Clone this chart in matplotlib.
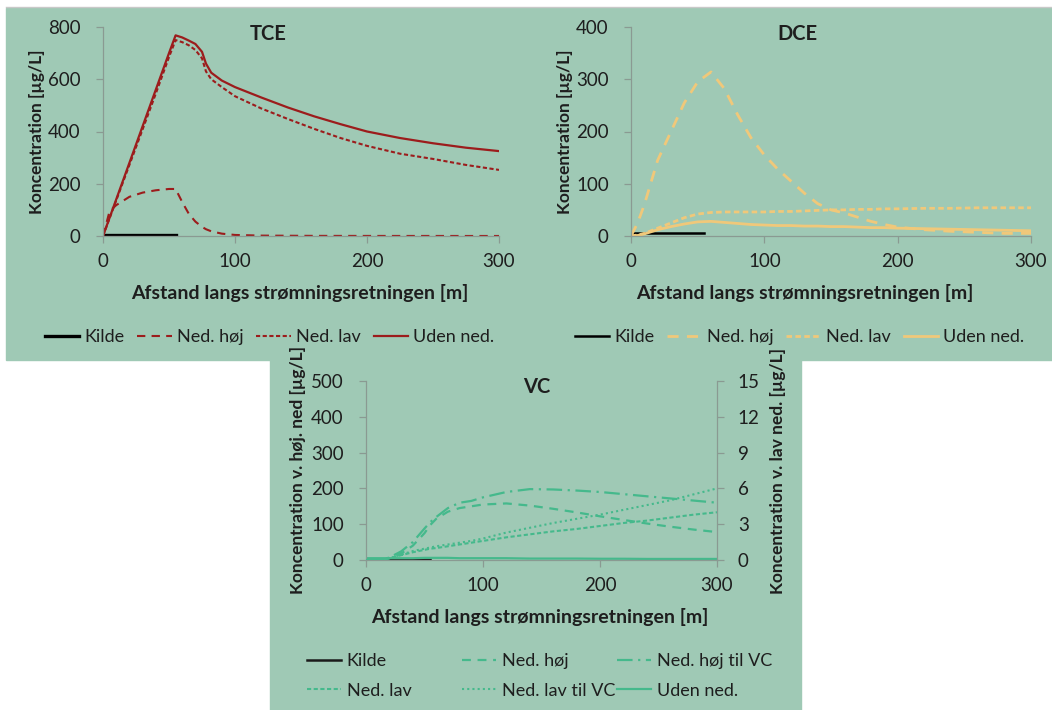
import matplotlib.pyplot as plt
from matplotlib.patches import Rectangle
from matplotlib.lines import Line2D

plt.rcParams['font.family'] = ['Lato', 'DejaVu Sans']

W, H = 1052, 710
BG = '#9fc9b5'
SPINE = '#8a9a92'
TXT = '#1e1e1e'

# ---- data ----
kilde_x = [0, 55]
tce_kilde = [3, 3]
dce_kilde = [5, 5]
vc_kilde = [3, 3]

tce_x = [0, 5, 10, 20, 30, 40, 50, 55, 60, 65, 70, 75, 78, 82, 90, 100,
         120, 140, 160, 180, 200, 225, 250, 275, 300]
tce_uden = [0, 70, 140, 280, 420, 560, 700, 768, 760, 748, 735, 705, 660,
            625, 595, 570, 530, 492, 458, 428, 400, 375, 355, 338, 325]
tce_lav = [0, 68, 136, 272, 408, 545, 685, 750, 742, 730, 712, 680, 630,
           600, 570, 535, 488, 448, 410, 375, 345, 315, 295, 272, 253]
tce_hoej = [0, 95, 118, 150, 166, 175, 180, 180, 130, 85, 55, 35, 26, 18,
            9, 4, 1.5, 1, 0.5, 0.4, 0.3, 0.2, 0.2, 0.1, 0.1]

dce_x = [0, 5, 10, 20, 30, 40, 50, 60, 70, 80, 90, 100, 110, 120, 130, 140,
         150, 160, 170, 180, 190, 200, 220, 240, 260, 280, 300]
dce_hoej = [0, 25, 60, 145, 200, 255, 295, 314, 282, 232, 188, 155, 128,
            105, 82, 62, 50, 44, 36, 28, 22, 17, 12, 9, 7, 5, 5]
dce_lav = [0, 2, 5, 15, 25, 35, 42, 45, 46, 46, 46, 46, 47, 47, 48, 49, 50,
           50, 51, 51, 52, 52, 53, 53, 54, 54, 54]
dce_uden = [0, 1, 4, 12, 18, 23, 27, 28, 26, 24, 22, 21, 20, 20, 19, 19, 18,
            18, 17, 16, 16, 15, 14, 13, 12, 11, 10]

vc_x = [0, 10, 15, 20, 30, 40, 50, 55, 60, 70, 80, 90, 100, 120, 140, 160,
        180, 200, 220, 240, 260, 280, 300]
vc_hoej = [0, 0, 1, 5, 18, 40, 75, 98, 115, 135, 145, 150, 155, 158, 152,
           143, 133, 122, 112, 102, 93, 85, 78]
vc_hoej_vc = [0, 0, 2, 7, 24, 50, 88, 106, 120, 145, 160, 165, 175, 190,
              198, 197, 194, 190, 184, 178, 172, 166, 160]
vc_lav = [0, 0, 0.05, 0.15, 0.4, 0.65, 0.85, 0.95, 1.0, 1.15, 1.3, 1.45,
          1.6, 1.9, 2.15, 2.4, 2.6, 2.85, 3.1, 3.3, 3.55, 3.8, 4.0]
vc_lav_vc = [0, 0, 0.05, 0.15, 0.45, 0.75, 0.95, 1.05, 1.15, 1.3, 1.45, 1.6,
             1.8, 2.3, 2.7, 3.1, 3.45, 3.8, 4.2, 4.6, 5.0, 5.5, 6.0]
vc_uden = [5, 5, 5, 5, 5, 5, 6, 6, 6, 6, 5, 5, 5, 5, 4, 4, 4, 3.5, 3.5, 3,
           3, 3, 3]

xticks = [0, 100, 200, 300]

RED = '#9c1c1c'
YEL = '#f0c87a'
GRN = '#45b98c'

LONG = (0, (4, 3))
SHORT = (0, (2, 1.2))
DASHDOT = (0, (7, 2.5, 1, 2.5))
DOT = (0, (1, 1.5))

TICK_FS = 13.5
XLAB_FS = 14
YLAB_FS = 12.5
LEG_FS = 13
TITLE_FS = 14.5


def px_axes(x0, y0, x1, y1):
    return fig.add_axes([x0 / W, 1 - y1 / H, (x1 - x0) / W, (y1 - y0) / H])


def style(ax, ymax, ystep):
    ax.set_facecolor('none')
    ax.set_xlim(0, 300)
    ax.set_ylim(0, ymax)
    ax.set_xticks(xticks)
    ax.set_yticks(range(0, ymax + 1, ystep))
    for s in ['top', 'right']:
        ax.spines[s].set_visible(False)
    for s in ['left', 'bottom']:
        ax.spines[s].set_color(SPINE)
        ax.spines[s].set_linewidth(0.9)
    ax.tick_params(axis='both', colors=SPINE, labelcolor=TXT,
                   labelsize=TICK_FS, length=5, width=0.9)
    ax.tick_params(axis='y', pad=11)
    ax.tick_params(axis='x', pad=7)


def legend_at(handles, x, y, ncol, colsp=0.7):
    fig.legend(handles, [h.get_label() for h in handles], loc='center left',
               bbox_to_anchor=(x / W, 1 - y / H), ncol=ncol, frameon=False,
               fontsize=LEG_FS, handlelength=1.9, handletextpad=0.3,
               columnspacing=colsp, labelspacing=0.75, borderpad=0,
               borderaxespad=0, labelcolor=TXT)


fig = plt.figure(figsize=(W / 100, H / 100), dpi=100, facecolor='white')

# green panels
fig.add_artist(Rectangle((6 / W, 1 - 360 / H), (W - 6) / W, 352 / H,
                         transform=fig.transFigure, color=BG, zorder=0))
fig.add_artist(Rectangle((270 / W, 0), 531 / W, 1 - 360 / H,
                         transform=fig.transFigure, color=BG, zorder=0))
fig.add_artist(Line2D([6 / W, 1], [1 - 7 / H] * 2, transform=fig.transFigure,
                      color='#c8c8c8', lw=1))

xlab_kw = dict(fontsize=XLAB_FS, fontweight='bold', color=TXT)
ylab_kw = dict(fontsize=YLAB_FS, fontweight='bold', color=TXT)

# ---- TCE ----
ax1 = px_axes(103, 27, 499, 236)
style(ax1, 800, 200)
ax1.plot(kilde_x, tce_kilde, color='black', lw=2.4, label='Kilde')
ax1.plot(tce_x, tce_hoej, color=RED, lw=1.5, ls=LONG, label='Ned. høj')
ax1.plot(tce_x, tce_lav, color=RED, lw=1.5, ls=SHORT, label='Ned. lav')
ax1.plot(tce_x, tce_uden, color=RED, lw=1.6, label='Uden ned.')
ax1.set_xlabel('Afstand langs strømningsretningen [m]', **xlab_kw)
ax1.set_ylabel('Koncentration [µg/L]', **ylab_kw)
ax1.xaxis.set_label_coords((300 - 103) / 396, (236 - 293) / 209)
ax1.yaxis.set_label_coords((37 - 103) / 396, 0.5)
ax1.xaxis.label.set_va('center')
ax1.yaxis.label.set_va('center')
fig.text(268 / W, 1 - 34 / H, 'TCE', ha='center', va='center',
         fontsize=TITLE_FS, fontweight='bold', color=TXT)
legend_at(ax1.get_legend_handles_labels()[0], 45, 337, 4)

# ---- DCE ----
ax2 = px_axes(631, 27, 1031, 236)
style(ax2, 400, 100)
ax2.plot(kilde_x, dce_kilde, color='black', lw=1.8, label='Kilde')
ax2.plot(dce_x, dce_hoej, color=YEL, lw=2, ls=LONG, label='Ned. høj')
ax2.plot(dce_x, dce_lav, color=YEL, lw=2, ls=SHORT, label='Ned. lav')
ax2.plot(dce_x, dce_uden, color=YEL, lw=2, label='Uden ned.')
ax2.set_xlabel('Afstand langs strømningsretningen [m]', **xlab_kw)
ax2.set_ylabel('Koncentration [µg/L]', **ylab_kw)
ax2.xaxis.set_label_coords((805 - 631) / 400, (236 - 293) / 209)
ax2.yaxis.set_label_coords((565 - 631) / 400, 0.5)
ax2.xaxis.label.set_va('center')
ax2.yaxis.label.set_va('center')
fig.text(797 / W, 1 - 34 / H, 'DCE', ha='center', va='center',
         fontsize=TITLE_FS, fontweight='bold', color=TXT)
legend_at(ax2.get_legend_handles_labels()[0], 575, 337, 4)

# ---- VC ----
ax3 = px_axes(366, 381, 717, 560)
style(ax3, 500, 100)
ax3r = ax3.twinx()
ax3r.set_ylim(0, 15)
ax3r.set_yticks(range(0, 16, 3))
for s in ['top', 'left', 'bottom']:
    ax3r.spines[s].set_visible(False)
ax3r.spines['right'].set_color(SPINE)
ax3r.spines['right'].set_linewidth(0.9)
ax3r.tick_params(colors=SPINE, labelcolor=TXT, labelsize=TICK_FS, length=5,
                 width=0.9, pad=10)

h_k, = ax3.plot(kilde_x, vc_kilde, color='#1a1a1a', lw=1.8, label='Kilde')
h_h, = ax3.plot(vc_x, vc_hoej, color=GRN, lw=1.6, ls=LONG, label='Ned. høj')
h_hv, = ax3.plot(vc_x, vc_hoej_vc, color=GRN, lw=1.6, ls=DASHDOT,
                 label='Ned. høj til VC')
h_l, = ax3r.plot(vc_x, vc_lav, color=GRN, lw=1.5, ls=SHORT, label='Ned. lav')
h_lv, = ax3r.plot(vc_x, vc_lav_vc, color=GRN, lw=1.5, ls=DOT,
                  label='Ned. lav til VC')
h_u, = ax3.plot(vc_x, vc_uden, color=GRN, lw=1.6, label='Uden ned.')

ax3.set_xlabel('Afstand langs strømningsretningen [m]', **xlab_kw)
ax3.set_ylabel('Koncentration v. høj. ned [µg/L]', **ylab_kw)
ax3r.set_ylabel('Koncentration v. lav ned. [µg/L]', **ylab_kw)
ax3.xaxis.set_label_coords((540 - 366) / 351, (560 - 617) / 179)
ax3.yaxis.set_label_coords((298 - 366) / 351, 0.5)
ax3r.yaxis.set_label_coords((778 - 366) / 351, 0.5)
ax3.xaxis.label.set_va('center')
ax3.yaxis.label.set_va('center')
ax3r.yaxis.label.set_va('center')
ax3r.yaxis.label.set_rotation(90)
fig.text(537 / W, 1 - 387 / H, 'VC', ha='center', va='center',
         fontsize=TITLE_FS, fontweight='bold', color=TXT)

# Excel-style legend: three fixed-width columns, two rows
legend_at([h_k, h_l], 307, 676, 1)
legend_at([h_h, h_lv], 462, 676, 1)
legend_at([h_hv, h_u], 617, 676, 1)

fig.savefig('out.png', dpi=100, facecolor='white')
